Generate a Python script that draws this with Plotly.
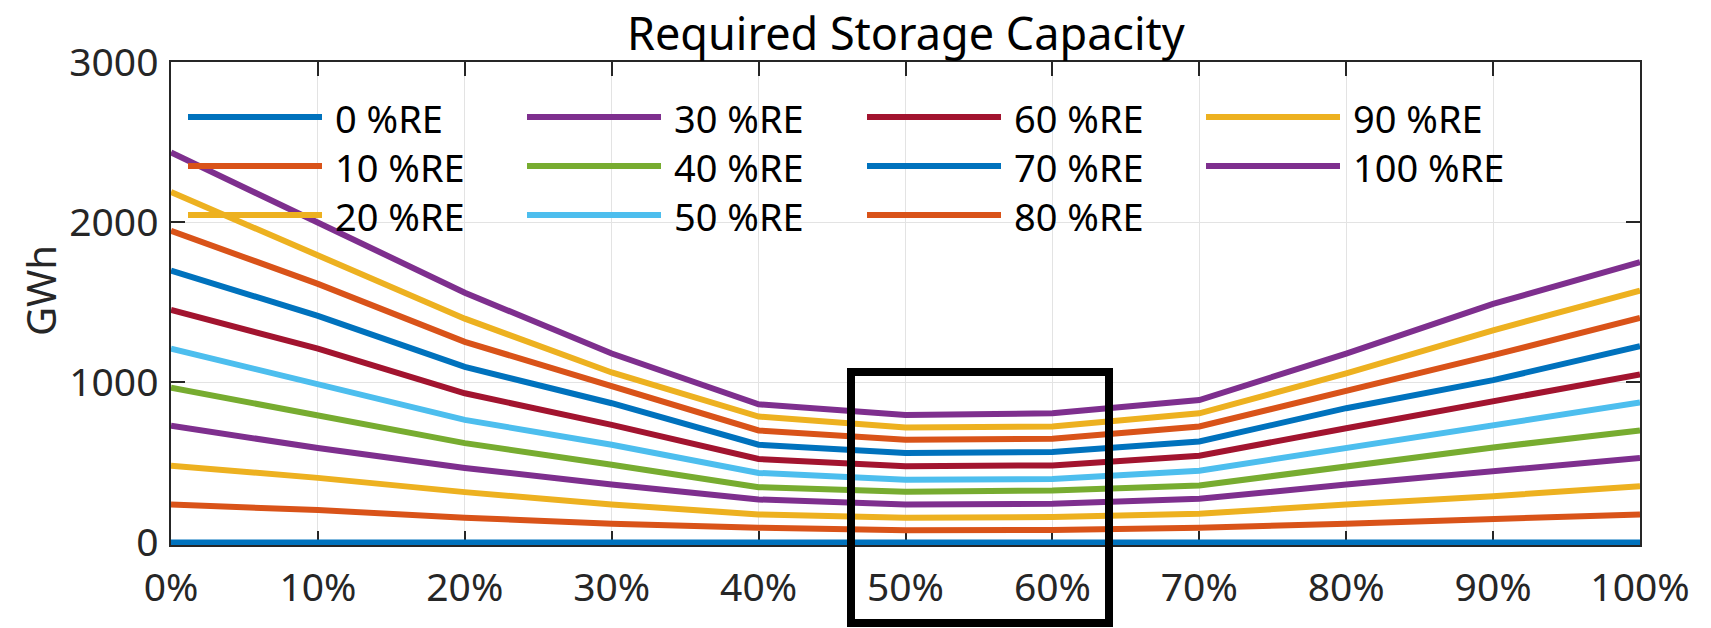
import plotly.graph_objects as go

# Share of one resource in the mix (x axis, %)
share = [0, 10, 20, 30, 40, 50, 60, 70, 80, 90, 100]

# Required storage (GWh) for each renewable-energy penetration level
re_levels = ["0 %RE", "10 %RE", "20 %RE", "30 %RE", "40 %RE", "50 %RE",
             "60 %RE", "70 %RE", "80 %RE", "90 %RE", "100 %RE"]

re_0 = [0, 0, 0, 0, 0, 0, 0, 0, 0, 0, 0]
re_10 = [238, 203, 155, 118, 93, 77, 79, 93, 118, 149, 176]
re_20 = [480, 404, 315, 238, 176, 155, 160, 180, 238, 290, 352]
re_30 = [729, 590, 466, 362, 269, 238, 242, 273, 362, 445, 528]
re_40 = [967, 793, 621, 486, 346, 317, 325, 356, 476, 594, 700]
re_50 = [1211, 988, 766, 611, 435, 393, 397, 449, 590, 725, 874]
re_60 = [1452, 1211, 932, 735, 522, 476, 482, 542, 714, 880, 1050]
re_70 = [1698, 1415, 1097, 870, 611, 559, 565, 631, 839, 1014, 1226]
re_80 = [1946, 1615, 1253, 979, 700, 642, 648, 725, 946, 1170, 1402]
re_90 = [2188, 1791, 1398, 1062, 787, 718, 725, 807, 1056, 1325, 1573]
re_100 = [2435, 2002, 1560, 1180, 863, 797, 807, 890, 1180, 1490, 1750]

series = [re_0, re_10, re_20, re_30, re_40, re_50,
          re_60, re_70, re_80, re_90, re_100]

x_ticks = [0, 10, 20, 30, 40, 50, 60, 70, 80, 90, 100]
y_ticks = [0, 1000, 2000, 3000]

# MATLAB default colour order, cycling after seven entries
palette = ["#0072BD", "#D95319", "#EDB120", "#7E2F8E",
           "#77AC30", "#4DBEEE", "#A2142F"]

FONT = "Noto Sans"
TEXT_COLOR = "#262626"
LINE_W = 6

# Figure geometry (pixels)
FIG_W, FIG_H = 1711, 628
M_L, M_R, M_T, M_B = 171, 71, 62, 83
PLOT_W = FIG_W - M_L - M_R
PLOT_H = FIG_H - M_T - M_B


def px_x(px):
    """Horizontal pixel position -> paper coordinate."""
    return (px - M_L) / PLOT_W


def px_y(py):
    """Vertical pixel position (from top) -> paper coordinate."""
    return (FIG_H - M_B - py) / PLOT_H


fig = go.Figure()
for i, (name, vals) in enumerate(zip(re_levels, series)):
    fig.add_trace(go.Scatter(
        x=share, y=vals, name=name, mode="lines",
        line=dict(color=palette[i % len(palette)], width=LINE_W),
        showlegend=False,
    ))

# Legend laid out in four columns (three rows each), long line samples
LEG_COLS = [188, 527, 867, 1206]
LEG_ROWS = [117, 166, 215]
LEG_LINE, LEG_GAP = 134, 11
for i, name in enumerate(re_levels):
    col, row = divmod(i, 3)
    x0 = LEG_COLS[col]
    y0 = LEG_ROWS[row]
    fig.add_shape(type="line", xref="paper", yref="paper",
                  x0=px_x(x0), x1=px_x(x0 + LEG_LINE),
                  y0=px_y(y0), y1=px_y(y0),
                  line=dict(color=palette[i % len(palette)], width=LINE_W))
    fig.add_annotation(xref="paper", yref="paper",
                       x=px_x(x0 + LEG_LINE + LEG_GAP), y=px_y(y0 + 1),
                       text=name, showarrow=False, xanchor="left",
                       yanchor="middle",
                       font=dict(family=FONT, size=38, color="#000000"))

# Highlight frame around the 50%–60% region
fig.add_shape(type="rect", xref="paper", yref="paper",
              x0=px_x(851), x1=px_x(1109), y0=px_y(623), y1=px_y(372),
              line=dict(color="#000000", width=8), fillcolor="rgba(0,0,0,0)")

fig.add_annotation(xref="paper", yref="paper", x=0.5, y=px_y(33),
                   text="Required Storage Capacity",
                   showarrow=False, xanchor="center", yanchor="middle",
                   font=dict(family=FONT, size=45, color="#000000"))

# Vertical axis label, set slightly above the axis midpoint
fig.add_annotation(xref="paper", yref="paper", x=px_x(40), y=px_y(291),
                   text="GWh", textangle=-90, showarrow=False,
                   xanchor="center", yanchor="middle",
                   font=dict(family=FONT, size=40, color=TEXT_COLOR))

axis_common = dict(
    showline=True, linecolor=TEXT_COLOR, linewidth=1.5, mirror="ticks",
    ticks="inside", ticklen=14, tickwidth=1.5, tickcolor=TEXT_COLOR,
    showgrid=True, gridcolor="#e3e3e3", gridwidth=1, zeroline=False,
    tickfont=dict(family=FONT, size=39, color=TEXT_COLOR),
    layer="below traces",
)

fig.update_xaxes(range=[0, 100], tickvals=x_ticks,
                 ticktext=[f"{v}%" for v in x_ticks],
                 ticklabelstandoff=7, **axis_common)
fig.update_yaxes(range=[-15, 3000], tickvals=y_ticks,
                 ticklabelstandoff=3, **axis_common)

fig.update_layout(
    width=FIG_W, height=FIG_H,
    margin=dict(l=M_L, r=M_R, t=M_T, b=M_B),
    paper_bgcolor="#ffffff", plot_bgcolor="#ffffff",
    showlegend=False,
)

fig.write_html("out.html")
